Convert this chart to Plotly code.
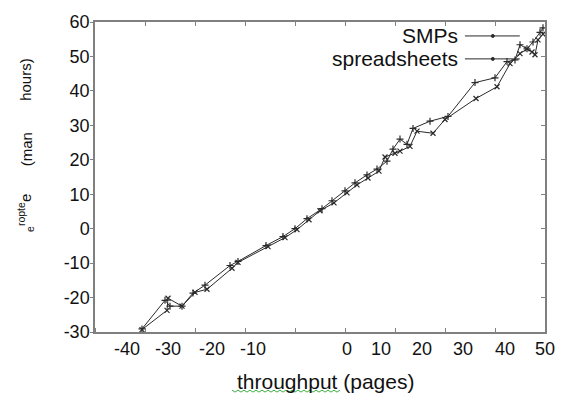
import plotly.graph_objects as go

# ---- data (x in axis units, y in man hours) ----
smps_x = [-40.6, -36.0, -35.0, -32.6, -30.4, -28.0, -23.0, -21.4, -15.8, -12.4, -10.0,
          -7.6, -4.6, -2.6, 0.0, 2.0, 4.4, 6.4, 8.4, 9.6, 11.0, 12.4, 13.6, 17.0, 20.6,
          26.0, 30.0, 32.4, 34.0, 35.0, 36.4, 37.6, 39.0, 39.6]
smps_y = [-29.1, -20.8, -22.5, -22.5, -18.7, -16.4, -10.7, -9.5, -4.9, -2.3, 0.0,
          2.9, 5.8, 8.1, 11.0, 13.3, 15.6, 17.3, 19.6, 23.1, 26.0, 24.5, 29.1, 31.2, 32.6,
          42.4, 43.8, 48.5, 49.0, 53.4, 52.2, 54.2, 57.0, 58.3]
sheets_x = [-40.6, -35.6, -35.4, -32.6, -30.0, -27.6, -22.6, -21.4, -15.4, -12.0, -9.6,
            -7.2, -5.0, -2.2, 0.4, 2.4, 4.6, 6.8, 8.0, 10.0, 11.0, 13.0, 14.4, 17.6, 20.0,
            26.2, 30.4, 33.0, 35.0, 36.4, 37.4, 38.0, 38.6, 39.6]
sheets_y = [-29.3, -23.7, -20.2, -22.5, -18.5, -17.6, -11.5, -9.8, -5.2, -2.6, -0.3,
            2.6, 5.2, 7.5, 10.4, 12.7, 14.7, 16.7, 20.8, 21.9, 22.5, 23.9, 28.3, 27.7, 31.7,
            37.8, 41.2, 47.9, 50.8, 52.2, 51.3, 50.5, 54.8, 56.5]

x_tick_text = ["-40", "-30", "-20", "-10", "0", "10", "20", "30", "40", "50"]
x_tick_pos = [-43.6, -35.4, -26.6, -18.4, 0.4, 7.2, 15.4, 23.6, 32.0, 40.0]
y_tick_vals = [-30, -20, -10, 0, 10, 20, 30, 40, 50, 60]
y_tick_text = ["-30", "-20", "-10", "0", "10", "20", "30", "40", "50", "60"]
series_names = ["SMPs", "spreadsheets"]

FONT = "Liberation Sans, Arial, sans-serif"
AX = "#808080"
INK = "#2a2a2a"

fig = go.Figure()
fig.add_trace(go.Scatter(x=smps_x, y=smps_y, mode="lines+markers", name=series_names[0],
                         line=dict(color=INK, width=1),
                         marker=dict(symbol="cross-thin", size=5, line=dict(color=INK, width=1.2))))
fig.add_trace(go.Scatter(x=sheets_x, y=sheets_y, mode="lines+markers", name=series_names[1],
                         line=dict(color=INK, width=1),
                         marker=dict(symbol="x-thin", size=5, line=dict(color=INK, width=1.2))))
# empty trace so the mirrored tick axes exist
fig.add_trace(go.Scatter(x=[], y=[], xaxis="x2", yaxis="y2", showlegend=False, hoverinfo="skip"))

fig.update_layout(
    width=568, height=396,
    margin=dict(l=95, r=23, t=20, b=64),
    paper_bgcolor="white", plot_bgcolor="white",
    showlegend=False,
    font=dict(family=FONT, size=18, color="#111"),
    xaxis=dict(range=[-50, 40], showgrid=False, zeroline=False,
               showline=True, linecolor=AX, linewidth=1.5, mirror=True,
               tickmode="array", tickvals=x_tick_pos, ticktext=x_tick_text,
               ticks="", ticklen=0, tickfont=dict(size=18),
               minor=dict(tickmode="linear", tick0=0, dtick=10, ticks="inside",
                          ticklen=4, tickcolor=AX, tickwidth=1, showgrid=False)),
    yaxis=dict(range=[-30, 60], showgrid=False, zeroline=False,
               showline=True, linecolor=AX, linewidth=1.5, mirror=True,
               tickmode="array", tickvals=y_tick_vals, ticktext=y_tick_text,
               ticks="outside", ticklen=3, tickcolor=AX, tickwidth=1,
               ticklabelstandoff=-3, tickfont=dict(size=18)),
    xaxis2=dict(range=[-50, 40], overlaying="x", side="top", anchor="y",
                showgrid=False, zeroline=False, showline=False, showticklabels=False,
                tickmode="linear", tick0=0, dtick=10, ticks="inside", ticklen=4,
                tickcolor=AX, tickwidth=1),
    yaxis2=dict(range=[-30, 60], overlaying="y", side="right", anchor="x",
                showgrid=False, zeroline=False, showline=False, showticklabels=False,
                tickmode="linear", tick0=0, dtick=10, ticks="inside", ticklen=4,
                tickcolor=AX, tickwidth=1),
)

# legend drawn inside the plot (text left of sample line)
ly = [0.955, 0.881]
for name, yy in zip(series_names, ly):
    fig.add_annotation(xref="paper", yref="paper", x=0.812, y=yy, text=name,
                       showarrow=False, xanchor="right", yanchor="middle",
                       font=dict(size=21, color="#111"))
    fig.add_shape(type="line", xref="paper", yref="paper", x0=0.822, x1=0.944,
                  y0=yy, y1=yy, line=dict(color=INK, width=1))
    fig.add_shape(type="circle", xref="paper", yref="paper", xsizemode="pixel",
                  ysizemode="pixel", xanchor=0.884, yanchor=yy, x0=-1.5, x1=1.5,
                  y0=-1.5, y1=1.5, line=dict(color=INK, width=1), fillcolor=INK)

# x title
fig.add_annotation(xref="paper", yref="paper", x=0.513, y=-0.16, text="throughput (pages)",
                   showarrow=False, xanchor="center", yanchor="middle",
                   font=dict(size=21, color="#111"))
# spell-check squiggle under "throughput"
x0p, x1p, yb = 232, 340, 392
pts = []
xx = x0p
up = True
while xx <= x1p:
    pts.append((xx, yb - 1.5 if up else yb + 0.5))
    up = not up
    xx += 3
path = "M " + " L ".join(f"{(px - 95) / 450:.4f},{(332 - py) / 312:.4f}" for px, py in pts)
fig.add_shape(type="path", xref="paper", yref="paper", path=path,
              line=dict(color="#3cb043", width=1))

# y title (garbled in the original)
ytitle_parts = ["hours)", "(man", "<sub>e</sub><sup>ropte</sup>e"]
ytitle_pos = [(-0.153, 0.814), (-0.153, 0.590), (-0.155, 0.385)]
for txt, (ax_, ay_) in zip(ytitle_parts, ytitle_pos):
    fig.add_annotation(xref="paper", yref="paper", x=ax_, y=ay_, text=txt,
                       showarrow=False, textangle=-90, xanchor="center", yanchor="middle",
                       font=dict(size=15, color="#111"))

fig.write_html("out.html", post_script="document.body.style.margin='0';",
               config={"displayModeBar": False})
